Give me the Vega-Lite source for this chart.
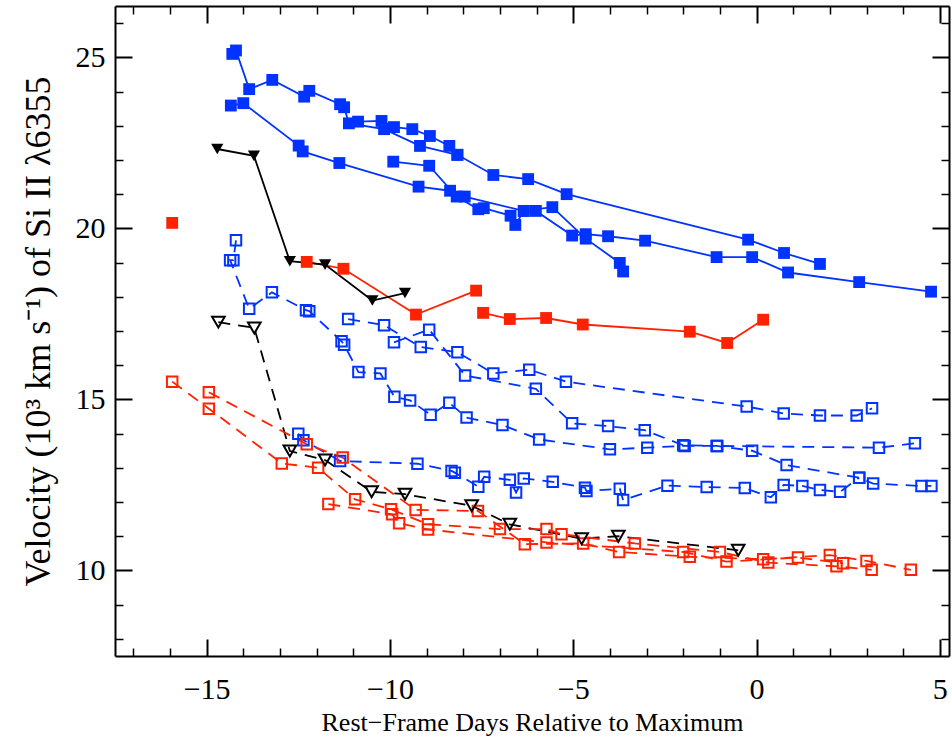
{
  "$schema": "https://vega.github.io/schema/vega-lite/v6.json",
  "width": 834,
  "height": 650,
  "autosize": "none",
  "padding": {"left": 115, "top": 6, "right": 3, "bottom": 90},
  "background": "white",
  "config": {
    "view": {"stroke": null},
    "font": "Liberation Serif",
    "axis": {
      "grid": false,
      "domainColor": "black",
      "domainWidth": 2,
      "tickColor": "black",
      "labelColor": "black",
      "titleColor": "black",
      "labelFont": "Liberation Serif",
      "titleFont": "Liberation Serif",
      "labelFontSize": 30,
      "titleFontSize": 27,
      "titleFontWeight": "normal"
    }
  },
  "data": {
    "values": [
      {"s": "H1", "g": "G1", "t": "hv", "k": 0, "x": -14.3, "y": 25.1},
      {"s": "H1", "g": "G1", "t": "hv", "k": 1, "x": -14.2, "y": 25.2},
      {"s": "H1", "g": "G1", "t": "hv", "k": 2, "x": -13.84, "y": 24.07},
      {"s": "H1", "g": "G1", "t": "hv", "k": 3, "x": -13.21, "y": 24.34},
      {"s": "H1", "g": "G1", "t": "hv", "k": 4, "x": -12.34, "y": 23.85},
      {"s": "H1", "g": "G1", "t": "hv", "k": 5, "x": -12.2, "y": 24.02},
      {"s": "H1", "g": "G1", "t": "hv", "k": 6, "x": -11.36, "y": 23.63},
      {"s": "H1", "g": "G1", "t": "hv", "k": 7, "x": -11.25, "y": 23.54},
      {"s": "H1", "g": "G1", "t": "hv", "k": 8, "x": -11.12, "y": 23.07},
      {"s": "H1", "g": "G1", "t": "hv", "k": 9, "x": -10.16, "y": 22.9},
      {"s": "H1", "g": "G1", "t": "hv", "k": 10, "x": -9.18, "y": 22.41},
      {"s": "H1", "g": "G1", "t": "hv", "k": 11, "x": -8.16, "y": 22.15},
      {"s": "H1", "g": "G1", "t": "hv", "k": 12, "x": -7.18, "y": 21.56},
      {"s": "H1", "g": "G1", "t": "hv", "k": 13, "x": -6.23, "y": 21.44},
      {"s": "H1", "g": "G1", "t": "hv", "k": 14, "x": -5.18, "y": 21.0},
      {"s": "H1", "g": "G1", "t": "hv", "k": 15, "x": -0.23, "y": 19.67},
      {"s": "H1", "g": "G1", "t": "hv", "k": 16, "x": 0.75, "y": 19.28},
      {"s": "H1", "g": "G1", "t": "hv", "k": 17, "x": 1.73, "y": 18.96},

      {"s": "H2", "g": "G1", "t": "hv", "k": 0, "x": -10.87, "y": 23.12},
      {"s": "H2", "g": "G1", "t": "hv", "k": 1, "x": -10.23, "y": 23.14},
      {"s": "H2", "g": "G1", "t": "hv", "k": 2, "x": -9.89, "y": 22.96},
      {"s": "H2", "g": "G1", "t": "hv", "k": 3, "x": -9.39, "y": 22.9},
      {"s": "H2", "g": "G1", "t": "hv", "k": 4, "x": -8.91, "y": 22.7},
      {"s": "H2", "g": "G1", "t": "hv", "k": 5, "x": -8.38, "y": 22.41},
      {"s": "H2", "g": "G1", "t": "hv", "k": 6, "x": -8.16, "y": 22.15},

      {"s": "H3", "g": "G1", "t": "hv", "k": 0, "x": -14.34, "y": 23.59},
      {"s": "H3", "g": "G1", "t": "hv", "k": 1, "x": -14.0, "y": 23.66},
      {"s": "H3", "g": "G1", "t": "hv", "k": 2, "x": -12.49, "y": 22.42},
      {"s": "H3", "g": "G1", "t": "hv", "k": 3, "x": -12.38, "y": 22.25},
      {"s": "H3", "g": "G1", "t": "hv", "k": 4, "x": -11.38, "y": 21.91},
      {"s": "H3", "g": "G1", "t": "hv", "k": 5, "x": -9.22, "y": 21.22},
      {"s": "H3", "g": "G1", "t": "hv", "k": 6, "x": -8.36, "y": 21.1},
      {"s": "H3", "g": "G1", "t": "hv", "k": 7, "x": -7.96, "y": 20.93},
      {"s": "H3", "g": "G1", "t": "hv", "k": 8, "x": -6.35, "y": 20.51},
      {"s": "H3", "g": "G1", "t": "hv", "k": 9, "x": -6.02, "y": 20.51},
      {"s": "H3", "g": "G1", "t": "hv", "k": 10, "x": -5.03, "y": 19.79},
      {"s": "H3", "g": "G1", "t": "hv", "k": 11, "x": -4.66, "y": 19.83},
      {"s": "H3", "g": "G1", "t": "hv", "k": 12, "x": -4.05, "y": 19.77},
      {"s": "H3", "g": "G1", "t": "hv", "k": 13, "x": -3.04, "y": 19.64},
      {"s": "H3", "g": "G1", "t": "hv", "k": 14, "x": -1.09, "y": 19.16},
      {"s": "H3", "g": "G1", "t": "hv", "k": 15, "x": -0.12, "y": 19.16},
      {"s": "H3", "g": "G1", "t": "hv", "k": 16, "x": 0.86, "y": 18.71},
      {"s": "H3", "g": "G1", "t": "hv", "k": 17, "x": 2.8, "y": 18.43},
      {"s": "H3", "g": "G1", "t": "hv", "k": 18, "x": 4.76, "y": 18.15},

      {"s": "H4", "g": "G1", "t": "hv", "k": 0, "x": -9.91, "y": 21.95},
      {"s": "H4", "g": "G1", "t": "hv", "k": 1, "x": -8.93, "y": 21.83},
      {"s": "H4", "g": "G1", "t": "hv", "k": 2, "x": -8.18, "y": 20.93},
      {"s": "H4", "g": "G1", "t": "hv", "k": 3, "x": -7.59, "y": 20.56},
      {"s": "H4", "g": "G1", "t": "hv", "k": 4, "x": -7.44, "y": 20.59},
      {"s": "H4", "g": "G1", "t": "hv", "k": 5, "x": -6.71, "y": 20.37},
      {"s": "H4", "g": "G1", "t": "hv", "k": 6, "x": -6.58, "y": 20.1},
      {"s": "H4", "g": "G1", "t": "hv", "k": 7, "x": -6.35, "y": 20.51},
      {"s": "H4", "g": "G1", "t": "hv", "k": 8, "x": -5.57, "y": 20.62},
      {"s": "H4", "g": "G1", "t": "hv", "k": 9, "x": -4.66, "y": 19.7},
      {"s": "H4", "g": "G1", "t": "hv", "k": 10, "x": -3.73, "y": 18.99},
      {"s": "H4", "g": "G1", "t": "hv", "k": 11, "x": -3.64, "y": 18.74},

      {"s": "R0", "g": "G2", "t": "hv", "k": 0, "x": -15.94, "y": 20.16},

      {"s": "R1", "g": "G2", "t": "hv", "k": 0, "x": -12.27, "y": 19.02},
      {"s": "R1", "g": "G2", "t": "hv", "k": 1, "x": -11.27, "y": 18.82},
      {"s": "R1", "g": "G2", "t": "hv", "k": 2, "x": -9.29, "y": 17.48},
      {"s": "R1", "g": "G2", "t": "hv", "k": 3, "x": -7.65, "y": 18.18},

      {"s": "R2", "g": "G2", "t": "hv", "k": 0, "x": -7.46, "y": 17.53},
      {"s": "R2", "g": "G2", "t": "hv", "k": 1, "x": -6.73, "y": 17.35},
      {"s": "R2", "g": "G2", "t": "hv", "k": 2, "x": -5.74, "y": 17.38},
      {"s": "R2", "g": "G2", "t": "hv", "k": 3, "x": -4.74, "y": 17.19},
      {"s": "R2", "g": "G2", "t": "hv", "k": 4, "x": -1.82, "y": 16.98},
      {"s": "R2", "g": "G2", "t": "hv", "k": 5, "x": -0.8, "y": 16.65},
      {"s": "R2", "g": "G2", "t": "hv", "k": 6, "x": 0.18, "y": 17.33},

      {"s": "K1", "g": "G3", "t": "hv", "k": 0, "x": -14.71, "y": 22.32},
      {"s": "K1", "g": "G3", "t": "hv", "k": 1, "x": -13.71, "y": 22.12},
      {"s": "K1", "g": "G3", "t": "hv", "k": 2, "x": -12.73, "y": 19.04},
      {"s": "K1", "g": "G3", "t": "hv", "k": 3, "x": -11.77, "y": 18.94},
      {"s": "K1", "g": "G3", "t": "hv", "k": 4, "x": -10.48, "y": 17.89},
      {"s": "K1", "g": "G3", "t": "hv", "k": 5, "x": -9.59, "y": 18.11},

      {"s": "P1", "g": "G1", "t": "ph", "k": 0, "x": -14.2, "y": 19.65},
      {"s": "P1", "g": "G1", "t": "ph", "k": 1, "x": -14.27, "y": 19.07},
      {"s": "P1", "g": "G1", "t": "ph", "k": 2, "x": -14.36, "y": 19.07},
      {"s": "P1", "g": "G1", "t": "ph", "k": 3, "x": -13.84, "y": 17.65},
      {"s": "P1", "g": "G1", "t": "ph", "k": 4, "x": -13.22, "y": 18.13},
      {"s": "P1", "g": "G1", "t": "ph", "k": 5, "x": -12.29, "y": 17.61},
      {"s": "P1", "g": "G1", "t": "ph", "k": 6, "x": -12.2, "y": 17.58},
      {"s": "P1", "g": "G1", "t": "ph", "k": 7, "x": -11.32, "y": 16.7},
      {"s": "P1", "g": "G1", "t": "ph", "k": 8, "x": -11.25, "y": 16.6},
      {"s": "P1", "g": "G1", "t": "ph", "k": 9, "x": -10.86, "y": 15.8},
      {"s": "P1", "g": "G1", "t": "ph", "k": 10, "x": -10.26, "y": 15.76},
      {"s": "P1", "g": "G1", "t": "ph", "k": 11, "x": -9.88, "y": 15.08},
      {"s": "P1", "g": "G1", "t": "ph", "k": 12, "x": -9.45, "y": 14.97},
      {"s": "P1", "g": "G1", "t": "ph", "k": 13, "x": -8.89, "y": 14.55},
      {"s": "P1", "g": "G1", "t": "ph", "k": 14, "x": -8.38, "y": 14.9},
      {"s": "P1", "g": "G1", "t": "ph", "k": 15, "x": -7.91, "y": 14.47},
      {"s": "P1", "g": "G1", "t": "ph", "k": 16, "x": -6.93, "y": 14.25},
      {"s": "P1", "g": "G1", "t": "ph", "k": 17, "x": -5.93, "y": 13.83},
      {"s": "P1", "g": "G1", "t": "ph", "k": 18, "x": -4.0, "y": 13.54},
      {"s": "P1", "g": "G1", "t": "ph", "k": 19, "x": -2.98, "y": 13.59},
      {"s": "P1", "g": "G1", "t": "ph", "k": 20, "x": -1.96, "y": 13.64},
      {"s": "P1", "g": "G1", "t": "ph", "k": 21, "x": -1.07, "y": 13.64},
      {"s": "P1", "g": "G1", "t": "ph", "k": 22, "x": 3.34, "y": 13.59},
      {"s": "P1", "g": "G1", "t": "ph", "k": 23, "x": 4.32, "y": 13.72},

      {"s": "P2", "g": "G1", "t": "ph", "k": 0, "x": -11.14, "y": 17.35},
      {"s": "P2", "g": "G1", "t": "ph", "k": 1, "x": -10.16, "y": 17.17},
      {"s": "P2", "g": "G1", "t": "ph", "k": 2, "x": -9.16, "y": 16.53},
      {"s": "P2", "g": "G1", "t": "ph", "k": 3, "x": -8.16, "y": 16.38},
      {"s": "P2", "g": "G1", "t": "ph", "k": 4, "x": -7.18, "y": 15.76},
      {"s": "P2", "g": "G1", "t": "ph", "k": 5, "x": -6.2, "y": 15.87},
      {"s": "P2", "g": "G1", "t": "ph", "k": 6, "x": -5.2, "y": 15.52},
      {"s": "P2", "g": "G1", "t": "ph", "k": 7, "x": -0.27, "y": 14.79},
      {"s": "P2", "g": "G1", "t": "ph", "k": 8, "x": 0.74, "y": 14.59},
      {"s": "P2", "g": "G1", "t": "ph", "k": 9, "x": 1.73, "y": 14.53},
      {"s": "P2", "g": "G1", "t": "ph", "k": 10, "x": 2.73, "y": 14.53},
      {"s": "P2", "g": "G1", "t": "ph", "k": 11, "x": 3.15, "y": 14.74},

      {"s": "P3", "g": "G1", "t": "ph", "k": 0, "x": -9.89, "y": 16.67},
      {"s": "P3", "g": "G1", "t": "ph", "k": 1, "x": -8.93, "y": 17.04},
      {"s": "P3", "g": "G1", "t": "ph", "k": 2, "x": -7.95, "y": 15.7},
      {"s": "P3", "g": "G1", "t": "ph", "k": 3, "x": -6.02, "y": 15.31},
      {"s": "P3", "g": "G1", "t": "ph", "k": 4, "x": -5.03, "y": 14.3},
      {"s": "P3", "g": "G1", "t": "ph", "k": 5, "x": -4.05, "y": 14.22},
      {"s": "P3", "g": "G1", "t": "ph", "k": 6, "x": -3.05, "y": 14.1},
      {"s": "P3", "g": "G1", "t": "ph", "k": 7, "x": -2.0, "y": 13.66},
      {"s": "P3", "g": "G1", "t": "ph", "k": 8, "x": -1.09, "y": 13.64},
      {"s": "P3", "g": "G1", "t": "ph", "k": 9, "x": -0.12, "y": 13.5},
      {"s": "P3", "g": "G1", "t": "ph", "k": 10, "x": 0.82, "y": 13.08},
      {"s": "P3", "g": "G1", "t": "ph", "k": 11, "x": 2.8, "y": 12.71},
      {"s": "P3", "g": "G1", "t": "ph", "k": 12, "x": 3.18, "y": 12.54},
      {"s": "P3", "g": "G1", "t": "ph", "k": 13, "x": 4.5, "y": 12.47},
      {"s": "P3", "g": "G1", "t": "ph", "k": 14, "x": 4.77, "y": 12.47},

      {"s": "P4", "g": "G1", "t": "ph", "k": 0, "x": -12.5, "y": 14.0},
      {"s": "P4", "g": "G1", "t": "ph", "k": 1, "x": -12.36, "y": 13.81},
      {"s": "P4", "g": "G1", "t": "ph", "k": 2, "x": -11.36, "y": 13.2},
      {"s": "P4", "g": "G1", "t": "ph", "k": 3, "x": -9.25, "y": 13.12},
      {"s": "P4", "g": "G1", "t": "ph", "k": 4, "x": -8.32, "y": 12.91},
      {"s": "P4", "g": "G1", "t": "ph", "k": 5, "x": -8.23, "y": 12.86},
      {"s": "P4", "g": "G1", "t": "ph", "k": 6, "x": -7.59, "y": 12.45},
      {"s": "P4", "g": "G1", "t": "ph", "k": 7, "x": -7.43, "y": 12.74},
      {"s": "P4", "g": "G1", "t": "ph", "k": 8, "x": -6.73, "y": 12.65},
      {"s": "P4", "g": "G1", "t": "ph", "k": 9, "x": -6.56, "y": 12.28},
      {"s": "P4", "g": "G1", "t": "ph", "k": 10, "x": -6.35, "y": 12.69},
      {"s": "P4", "g": "G1", "t": "ph", "k": 11, "x": -5.56, "y": 12.59},
      {"s": "P4", "g": "G1", "t": "ph", "k": 12, "x": -4.68, "y": 12.42},
      {"s": "P4", "g": "G1", "t": "ph", "k": 13, "x": -4.64, "y": 12.32},
      {"s": "P4", "g": "G1", "t": "ph", "k": 14, "x": -3.73, "y": 12.39},
      {"s": "P4", "g": "G1", "t": "ph", "k": 15, "x": -3.64, "y": 12.06},
      {"s": "P4", "g": "G1", "t": "ph", "k": 16, "x": -2.43, "y": 12.48},
      {"s": "P4", "g": "G1", "t": "ph", "k": 17, "x": -1.36, "y": 12.44},
      {"s": "P4", "g": "G1", "t": "ph", "k": 18, "x": -0.32, "y": 12.41},
      {"s": "P4", "g": "G1", "t": "ph", "k": 19, "x": 0.39, "y": 12.14},
      {"s": "P4", "g": "G1", "t": "ph", "k": 20, "x": 0.74, "y": 12.5},
      {"s": "P4", "g": "G1", "t": "ph", "k": 21, "x": 1.25, "y": 12.47},
      {"s": "P4", "g": "G1", "t": "ph", "k": 22, "x": 1.73, "y": 12.35},
      {"s": "P4", "g": "G1", "t": "ph", "k": 23, "x": 2.28, "y": 12.3},
      {"s": "P4", "g": "G1", "t": "ph", "k": 24, "x": 2.8, "y": 12.71},

      {"s": "K2", "g": "G3", "t": "ph", "k": 0, "x": -14.68, "y": 17.26},
      {"s": "K2", "g": "G3", "t": "ph", "k": 1, "x": -13.7, "y": 17.09},
      {"s": "K2", "g": "G3", "t": "ph", "k": 2, "x": -12.73, "y": 13.49},
      {"s": "K2", "g": "G3", "t": "ph", "k": 3, "x": -11.77, "y": 13.23},
      {"s": "K2", "g": "G3", "t": "ph", "k": 4, "x": -10.5, "y": 12.3},
      {"s": "K2", "g": "G3", "t": "ph", "k": 5, "x": -9.59, "y": 12.23},
      {"s": "K2", "g": "G3", "t": "ph", "k": 6, "x": -7.77, "y": 11.89},
      {"s": "K2", "g": "G3", "t": "ph", "k": 7, "x": -6.73, "y": 11.35},
      {"s": "K2", "g": "G3", "t": "ph", "k": 8, "x": -4.77, "y": 10.93},
      {"s": "K2", "g": "G3", "t": "ph", "k": 9, "x": -3.77, "y": 11.0},
      {"s": "K2", "g": "G3", "t": "ph", "k": 10, "x": -0.5, "y": 10.59},

      {"s": "Q1", "g": "G2", "t": "ph", "k": 0, "x": -15.94, "y": 15.52},
      {"s": "Q1", "g": "G2", "t": "ph", "k": 1, "x": -14.94, "y": 14.73},
      {"s": "Q1", "g": "G2", "t": "ph", "k": 2, "x": -12.95, "y": 13.13},
      {"s": "Q1", "g": "G2", "t": "ph", "k": 3, "x": -11.96, "y": 13.0},
      {"s": "Q1", "g": "G2", "t": "ph", "k": 4, "x": -10.95, "y": 12.08},
      {"s": "Q1", "g": "G2", "t": "ph", "k": 5, "x": -9.97, "y": 11.79},
      {"s": "Q1", "g": "G2", "t": "ph", "k": 6, "x": -8.96, "y": 11.35},
      {"s": "Q1", "g": "G2", "t": "ph", "k": 7, "x": -7.0, "y": 11.21},
      {"s": "Q1", "g": "G2", "t": "ph", "k": 8, "x": -5.73, "y": 11.21},
      {"s": "Q1", "g": "G2", "t": "ph", "k": 9, "x": -5.32, "y": 11.06},
      {"s": "Q1", "g": "G2", "t": "ph", "k": 10, "x": -3.32, "y": 10.79},
      {"s": "Q1", "g": "G2", "t": "ph", "k": 11, "x": -1.0, "y": 10.54},
      {"s": "Q1", "g": "G2", "t": "ph", "k": 12, "x": 0.32, "y": 10.23},
      {"s": "Q1", "g": "G2", "t": "ph", "k": 13, "x": 2.18, "y": 10.12},
      {"s": "Q1", "g": "G2", "t": "ph", "k": 14, "x": 3.14, "y": 10.02},

      {"s": "Q2", "g": "G2", "t": "ph", "k": 0, "x": -14.94, "y": 15.21},
      {"s": "Q2", "g": "G2", "t": "ph", "k": 1, "x": -12.27, "y": 13.69},
      {"s": "Q2", "g": "G2", "t": "ph", "k": 2, "x": -11.29, "y": 13.3},
      {"s": "Q2", "g": "G2", "t": "ph", "k": 3, "x": -9.3, "y": 11.77},
      {"s": "Q2", "g": "G2", "t": "ph", "k": 4, "x": -7.6, "y": 11.74},
      {"s": "Q2", "g": "G2", "t": "ph", "k": 5, "x": -6.32, "y": 10.77},
      {"s": "Q2", "g": "G2", "t": "ph", "k": 6, "x": -4.73, "y": 10.79},
      {"s": "Q2", "g": "G2", "t": "ph", "k": 7, "x": -3.75, "y": 10.54},
      {"s": "Q2", "g": "G2", "t": "ph", "k": 8, "x": -1.82, "y": 10.4},
      {"s": "Q2", "g": "G2", "t": "ph", "k": 9, "x": 0.18, "y": 10.33},
      {"s": "Q2", "g": "G2", "t": "ph", "k": 10, "x": 2.0, "y": 10.45},
      {"s": "Q2", "g": "G2", "t": "ph", "k": 11, "x": 3.0, "y": 10.28},
      {"s": "Q2", "g": "G2", "t": "ph", "k": 12, "x": 4.21, "y": 10.02},

      {"s": "Q3", "g": "G2", "t": "ph", "k": 0, "x": -11.68, "y": 11.94},
      {"s": "Q3", "g": "G2", "t": "ph", "k": 1, "x": -9.94, "y": 11.64},
      {"s": "Q3", "g": "G2", "t": "ph", "k": 2, "x": -9.75, "y": 11.38},
      {"s": "Q3", "g": "G2", "t": "ph", "k": 3, "x": -8.96, "y": 11.2},
      {"s": "Q3", "g": "G2", "t": "ph", "k": 4, "x": -5.73, "y": 10.82},
      {"s": "Q3", "g": "G2", "t": "ph", "k": 5, "x": -2.0, "y": 10.54},
      {"s": "Q3", "g": "G2", "t": "ph", "k": 6, "x": -0.82, "y": 10.26},
      {"s": "Q3", "g": "G2", "t": "ph", "k": 7, "x": 1.13, "y": 10.38},
      {"s": "Q3", "g": "G2", "t": "ph", "k": 8, "x": 2.36, "y": 10.21}
    ]
  },
  "encoding": {
    "x": {"field": "x", "type": "quantitative", "scale": {"domain": [-17.5, 5.25], "nice": false, "zero": false}},
    "y": {"field": "y", "type": "quantitative", "scale": {"domain": [7.5, 26.5], "nice": false, "zero": false}},
    "color": {"field": "g", "type": "nominal", "scale": {"domain": ["G1", "G2", "G3"], "range": ["#0033ff", "#ff2200", "#000000"]}, "legend": null},
    "detail": {"field": "s", "type": "nominal"},
    "order": {"field": "k", "type": "quantitative"}
  },
  "layer": [
    {
      "transform": [{"filter": "datum.t == 'hv'"}],
      "mark": {"type": "line", "strokeWidth": 1.8},
      "encoding": {
        "x": {"field": "x", "type": "quantitative", "axis": {"orient": "bottom", "values": [-15, -10, -5, 0, 5], "tickSize": -17, "tickWidth": 2, "labelPadding": 35, "title": "Rest−Frame Days Relative to Maximum", "titleFontSize": 26, "titlePadding": 5}},
        "y": {"field": "y", "type": "quantitative", "axis": {"orient": "left", "values": [10, 15, 20, 25], "tickSize": -17, "tickWidth": 2, "labelPadding": 27, "title": "Velocity (10³ km s⁻¹) of Si II λ6355", "titleFontSize": 36, "titlePadding": 18}}
      }
    },
    {
      "transform": [{"filter": "datum.t == 'ph'"}],
      "mark": {"type": "line", "strokeWidth": 1.8, "strokeDash": [12, 8]},
      "encoding": {
        "x": {"field": "x", "type": "quantitative", "axis": {"orient": "bottom", "values": [-17, -16, -14, -13, -12, -11, -9, -8, -7, -6, -4, -3, -2, -1, 1, 2, 3, 4], "tickSize": -8, "tickWidth": 1.5, "labels": false, "domain": false, "title": null}},
        "y": {"field": "y", "type": "quantitative", "axis": {"orient": "left", "values": [8, 9, 11, 12, 13, 14, 16, 17, 18, 19, 21, 22, 23, 24, 26], "tickSize": -8, "tickWidth": 1.5, "labels": false, "domain": false, "title": null}}
      }
    },
    {
      "transform": [{"filter": "datum.t == 'hv' && datum.g != 'G3'"}],
      "mark": {"type": "point", "shape": "square", "filled": true, "size": 140, "opacity": 1},
      "encoding": {
        "x": {"field": "x", "type": "quantitative", "axis": {"orient": "top", "values": [-15, -10, -5, 0, 5], "tickSize": -17, "tickWidth": 2, "labels": false, "title": null}},
        "y": {"field": "y", "type": "quantitative", "axis": {"orient": "right", "values": [10, 15, 20, 25], "tickSize": -17, "tickWidth": 2, "labels": false, "title": null}}
      }
    },
    {
      "transform": [{"filter": "datum.t == 'hv' && datum.g == 'G3'"}],
      "mark": {"type": "point", "shape": "triangle-down", "filled": true, "size": 150, "opacity": 1},
      "encoding": {
        "x": {"field": "x", "type": "quantitative", "axis": {"orient": "top", "values": [-17, -16, -14, -13, -12, -11, -9, -8, -7, -6, -4, -3, -2, -1, 1, 2, 3, 4], "tickSize": -8, "tickWidth": 1.5, "labels": false, "domain": false, "title": null}},
        "y": {"field": "y", "type": "quantitative", "axis": {"orient": "right", "values": [8, 9, 11, 12, 13, 14, 16, 17, 18, 19, 21, 22, 23, 24, 26], "tickSize": -8, "tickWidth": 1.5, "labels": false, "domain": false, "title": null}}
      }
    },
    {
      "transform": [{"filter": "datum.t == 'ph' && datum.g != 'G3'"}],
      "mark": {"type": "point", "shape": "square", "filled": false, "size": 110, "strokeWidth": 2, "opacity": 1},
      "encoding": {
        "x": {"field": "x", "type": "quantitative", "axis": null},
        "y": {"field": "y", "type": "quantitative", "axis": null}
      }
    },
    {
      "transform": [{"filter": "datum.t == 'ph' && datum.g == 'G3'"}],
      "mark": {"type": "point", "shape": "triangle-down", "filled": false, "size": 160, "strokeWidth": 2, "opacity": 1},
      "encoding": {
        "x": {"field": "x", "type": "quantitative", "axis": null},
        "y": {"field": "y", "type": "quantitative", "axis": null}
      }
    }
  ],
  "resolve": {"axis": {"x": "independent", "y": "independent"}}
}
